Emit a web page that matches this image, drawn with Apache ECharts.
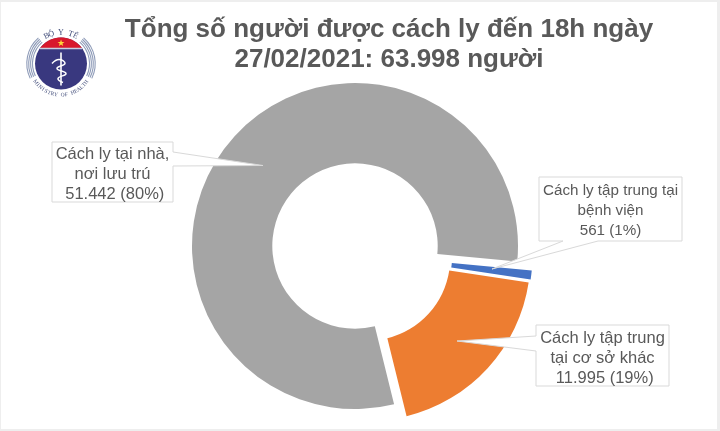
<!DOCTYPE html>
<html lang="vi">
<head>
  <meta charset="UTF-8">
  <title>Cách ly</title>
  <script src="https://cdn.jsdelivr.net/npm/echarts@6/dist/echarts.min.js"></script>
  <style>html,body{margin:0;padding:0;background:#fff}</style>
</head>
<body>
  <div id="main" style="width:720px;height:431px;"></div>
<script type="text/javascript">
var titleText = 'Tổng số người được cách ly đến 18h ngày\n27/02/2021: 63.998 người';
var categories = ['Cách ly tập trung tại bệnh viện', 'Cách ly tập trung tại cơ sở khác', 'Cách ly tại nhà, nơi lưu trú'];
var values = [561, 11995, 51442];
var colors = ['#4472c4', '#ed7d31', '#a5a5a5'];
var centers = [[369.5, 255], [367.5, 258], [355, 246]];
var calloutTexts = ['Cách ly tập trung tại\nbệnh viện\n561 (1%)', 'Cách ly tập trung\ntại cơ sở khác\n 11.995 (19%)', 'Cách ly tại nhà,\nnơi lưu trú\n 51.442 (80%)'];

var app = echarts.init(document.getElementById('main'));

// one pie per slice so each one can be pulled out by its own distance
var series = categories.map(function (name, s) {
  return {
    type: 'pie',
    name: name,
    silent: true,
    animation: false,
    clockwise: true,
    startAngle: -5.5,
    center: centers[s],
    radius: [82.7, 163],
    label: {show: false},
    labelLine: {show: false},
    emphasis: {disabled: true},
    data: values.map(function (v, i) {
      return {
        name: categories[i],
        value: v,
        itemStyle: {color: i === s ? colors[i] : 'rgba(0,0,0,0)'}
      };
    })
  };
});

function callout(box, pointer, text, fontSize, textDy) {
  var x0 = box[0], y0 = box[1], x1 = box[2], y1 = box[3];
  var pts = [[x0, y0], [x1, y0], [x1, y1], [x0, y1]];
  // pointer is spliced into the right side / bottom depending on the box
  pts.splice(pointer.at, 0, pointer.a, pointer.tip, pointer.b);
  return [{
    type: 'polygon',
    z: 10,
    shape: {points: pts},
    style: {fill: '#fff', stroke: '#d9d9d9', lineWidth: 1}
  }, {
    type: 'text',
    z: 11,
    x: (x0 + x1) / 2,
    y: (y0 + y1) / 2 + textDy,
    style: {
      text: text,
      fill: '#595959',
      font: fontSize + 'px "Liberation Sans"',
      lineHeight: 20,
      align: 'center',
      verticalAlign: 'middle'
    }
  }];
}

// logo, small emblem top left
function logo(cx, cy) {
  var els = [];
  var i, a;
  for (i = 0; i < 4; i++) {
    [[-0.85, 0.45], [Math.PI - 0.45, Math.PI + 0.85]].forEach(function (r) {
      els.push({
        type: 'arc',
        shape: {cx: cx, cy: cy, r: 28.5 + i * 1.9, startAngle: r[0], endAngle: r[1]},
        style: {fill: null, stroke: '#8e9bb8', lineWidth: 1.1}
      });
    });
  }
  els.push({type: 'circle', shape: {cx: cx, cy: cy, r: 26}, style: {fill: '#39387f'}});
  var cap = [];
  var capAngle = Math.acos(15.5 / 26);
  for (i = 0; i <= 20; i++) {
    a = -Math.PI / 2 - capAngle + capAngle * 2 * i / 20;
    cap.push([cx + 26 * Math.cos(a), cy + 26 * Math.sin(a)]);
  }
  els.push({type: 'polygon', shape: {points: cap}, style: {fill: '#d8182c'}});
  els.push({
    type: 'line',
    shape: {x1: cx - 21, y1: cy - 15, x2: cx + 21, y2: cy - 15},
    style: {stroke: '#c9cfe0', lineWidth: 1.4}
  });
  els.push({
    type: 'text', x: cx, y: cy - 20,
    style: {text: '★', fill: '#ffd83a', font: '9px "DejaVu Sans"', align: 'center', verticalAlign: 'middle'}
  });
  els.push({
    type: 'line',
    shape: {x1: cx, y1: cy - 11, x2: cx, y2: cy + 22},
    style: {stroke: '#fff', lineWidth: 1.6}
  });
  els.push({
    type: 'polyline',
    shape: {
      points: [[cx - 9, cy], [cx - 2, cy - 4], [cx + 4, cy], [cx - 4, cy + 5], [cx + 5, cy + 10], [cx - 3, cy + 15], [cx + 2, cy + 19]],
      smooth: 0.5
    },
    style: {fill: null, stroke: '#fff', lineWidth: 1.5}
  });
  function arcText(str, r, mid, step, size, top) {
    str.split('').forEach(function (ch, k) {
      var ang = mid + (k - (str.length - 1) / 2) * step * (top ? 1 : -1);
      els.push({
        type: 'text',
        x: cx + r * Math.cos(ang),
        y: cy + r * Math.sin(ang),
        rotation: top ? -(ang + Math.PI / 2) : -(ang - Math.PI / 2),
        style: {text: ch, fill: '#3f4a78', font: size + 'px "Liberation Serif"', align: 'center', verticalAlign: 'middle'}
      });
    });
  }
  arcText('BỘ Y TẾ', 31, -Math.PI / 2, 0.16, 8, true);
  arcText('MINISTRY OF HEALTH', 31.5, Math.PI / 2, 0.11, 5.5, false);
  return els;
}

var graphics = [
  {type: 'rect', z: -1, shape: {x: 0, y: 0, width: 720, height: 431}, style: {fill: '#eeeeee'}},
  {type: 'rect', z: -1, shape: {x: 1, y: 2, width: 716, height: 427}, style: {fill: '#ffffff'}}
]
  .concat(logo(61, 63.5))
  .concat(callout([539, 177, 682, 241], {at: 3, a: [598, 241], tip: [492, 269], b: [563, 241]}, calloutTexts[0], 15.2, 2))
  .concat(callout([536, 325, 669, 386], {at: 4, a: [536, 351], tip: [457, 341], b: [536, 336]}, calloutTexts[1], 16.5, 3))
  .concat(callout([52, 142, 173, 202], {at: 2, a: [173, 152], tip: [263, 165.5], b: [173, 166]}, calloutTexts[2], 16.5, 2));

var option = {
  backgroundColor: 'transparent',
  title: {
    text: titleText,
    left: 384,
    top: 10,
    textAlign: 'center',
    textStyle: {
      color: '#595959',
      fontFamily: 'Liberation Sans',
      fontWeight: 'bold',
      fontSize: 26,
      lineHeight: 30
    }
  },
  graphic: {elements: graphics},
  series: series
};

app.setOption(option);
</script>
</body>
</html>
